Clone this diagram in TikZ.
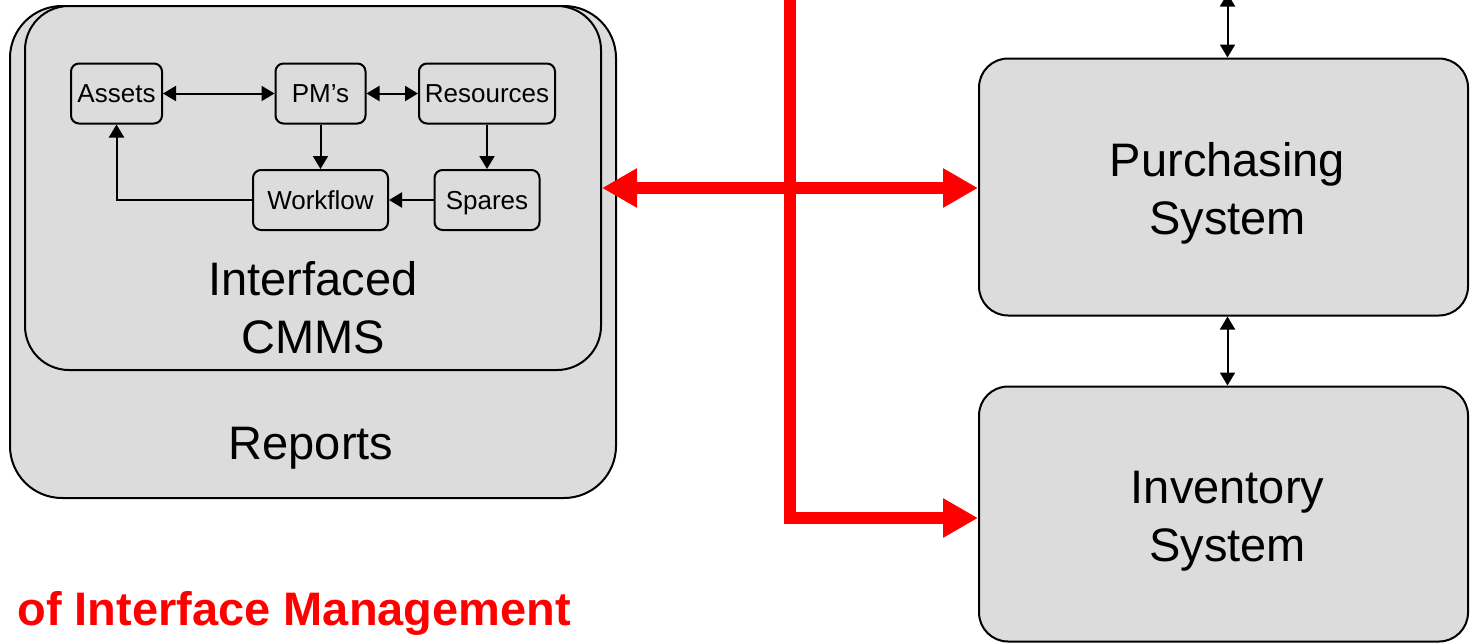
\documentclass[tikz,border=0pt]{standalone}
\usepackage{fontspec}
\setmainfont{Liberation Sans}
\usetikzlibrary{arrows.meta}
\definecolor{boxgrey}{RGB}{220,220,220}
\definecolor{feedred}{RGB}{255,0,0}

\begin{document}
\begin{tikzpicture}[x=0.5pt, y=-0.5pt,
        sysbox/.style={draw, line width=1pt, fill=boxgrey, rounded corners=#1, inner sep=0pt},
        modbox/.style={draw, line width=1pt, fill=boxgrey, rounded corners=4pt, minimum height=30pt, inner sep=0pt, text height=9.3pt, text depth=0pt, font=\fontsize{13}{15.6}\selectfont},
        bigtext/.style={align=center, inner sep=0pt, font=\fontsize{23.5}{29}\selectfont},
        link/.style={line width=1pt, >={Triangle[length=6.5pt,width=7.5pt]}},
        feed/.style={line width=6pt, draw=feedred, >={Triangle[length=17.5pt,width=18.5pt]}}]
        \useasboundingbox (0, 0) rectangle (1470, 643);
        \path (313, 252) node[sysbox=26pt, minimum width=303pt, minimum height=246pt](reports) {}
              (313, 188) node[sysbox=22pt, minimum width=288pt, minimum height=182pt](cmms) {}
              (1223.5, 187) node[sysbox=14.5pt, minimum width=244.5pt, minimum height=128.5pt](purchasing) {}
              (1223.5, 514) node[sysbox=14.5pt, minimum width=244.5pt, minimum height=127.5pt](inventory) {};
        \path (313, 307.5) node[bigtext](cmmstext) {Interfaced\\CMMS}
              (311, 448.5) node[bigtext](reportstext) {Reports}
              ([xshift=2pt, yshift=-3pt]purchasing.center) node[bigtext](purchasingtext) {Purchasing\\System}
              ([xshift=2pt, yshift=-3.5pt]inventory.center) node[bigtext](inventorytext) {Inventory\\System};
        \path (116.5, 93.5) node[modbox, minimum width=45.5pt](assets) {Assets}
              (320.5, 93.5) node[modbox, minimum width=45pt](pms) {PM’s}
              (487, 93.5) node[modbox, minimum width=68pt](resources) {Resources}
              (320.5, 200) node[modbox, minimum width=67.5pt](workflow) {Workflow}
              (487, 200) node[modbox, minimum width=52.5pt](spares) {Spares};
        \draw[link, <->] (assets) -- (pms);
        \draw[link, <->] (pms) -- (resources);
        \draw[link, ->] (pms) -- (workflow);
        \draw[link, ->] (resources) -- (spares);
        \draw[link, ->] (spares) -- (workflow);
        \draw[link, ->] (workflow.west) -| (assets.south);
        \coordinate (erp) at ([xshift=2pt, yshift=32pt]purchasing.north);
        \draw[link, <->] (erp) -- ([xshift=2pt]purchasing.north);
        \draw[link, <->] ([xshift=2pt]purchasing.south) -- ([xshift=2pt]inventory.north);
        \coordinate (bus) at (790, -20);
        \draw[feed, ->] (bus) |- ([yshift=-2pt]inventory.west);
        \draw[feed, <->] (cmms.east) -- (cmms.east -| purchasing.west);
        \path (17, 625) node[anchor=base west, inner sep=0pt, text=feedred, font=\bfseries\fontsize{23.5}{28}\selectfont](title) {of Interface Management};
    \end{tikzpicture}
\end{document}
